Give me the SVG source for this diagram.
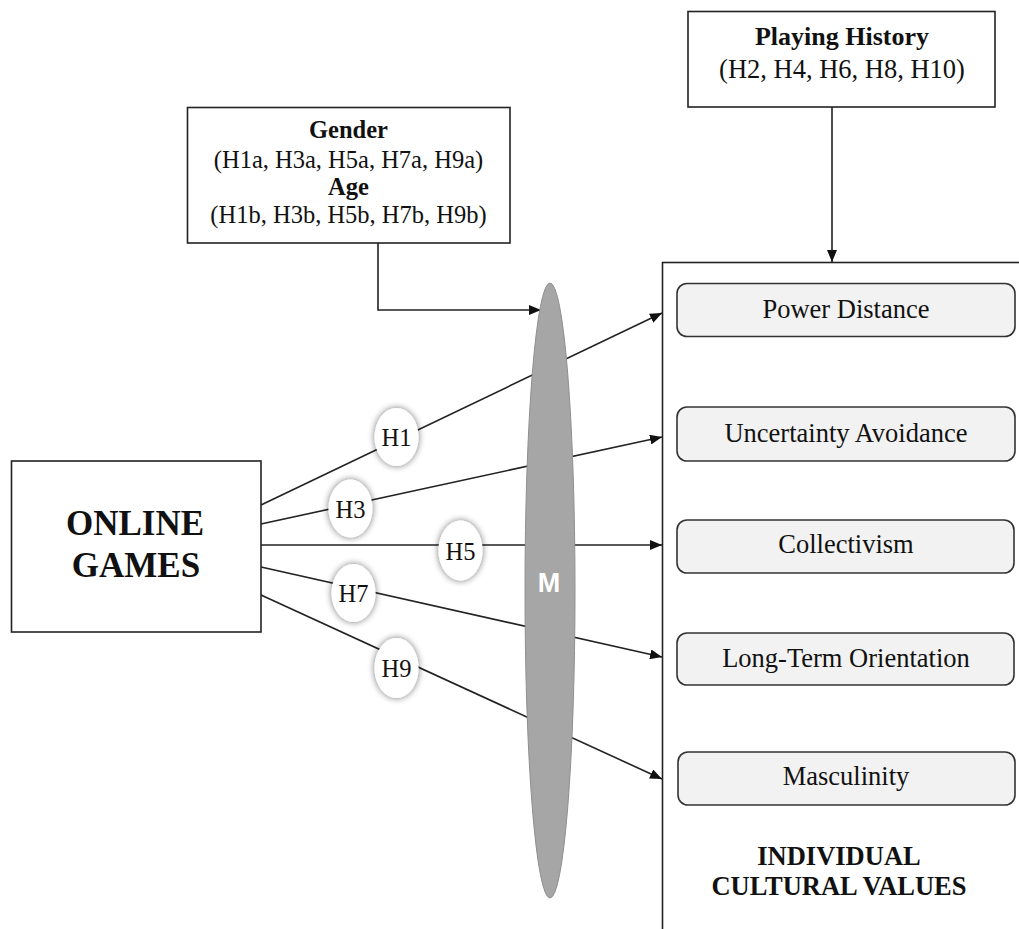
<svg xmlns="http://www.w3.org/2000/svg" width="1019" height="929" viewBox="0 0 1019 929">
  <style>
    .box { fill: #ffffff; stroke: #222222; stroke-width: 1.6; }
    .val { fill: #f2f2f2; stroke: #333333; stroke-width: 1.6; }
    .serif { font-family: "Liberation Serif", "Times New Roman", serif; fill: #111111; text-anchor: middle; }
    .b { font-weight: bold; }
    .link { fill: none; stroke: #222222; stroke-width: 1.6; }
    .hyp { fill: #ffffff; filter: url(#glow); }
  </style>
  <defs>
    <marker id="arrow" viewBox="0 0 12 10" refX="12" refY="5" markerWidth="12" markerHeight="10" markerUnits="userSpaceOnUse" orient="auto">
      <path d="M0,0 L12,5 L0,10 Z" fill="#111111"/>
    </marker>
    <filter id="glow" x="-50%" y="-50%" width="200%" height="200%">
      <feGaussianBlur in="SourceAlpha" stdDeviation="3.5"/>
      <feComponentTransfer><feFuncA type="linear" slope="0.55"/></feComponentTransfer>
      <feMerge><feMergeNode/><feMergeNode in="SourceGraphic"/></feMerge>
    </filter>
  </defs>

  <!-- connectors -->
  <g id="connectors">
    <line class="link" x1="261" y1="505" x2="662" y2="313" marker-end="url(#arrow)"/>
    <line class="link" x1="261" y1="524" x2="662" y2="437" marker-end="url(#arrow)"/>
    <line class="link" x1="261" y1="545" x2="662" y2="545" marker-end="url(#arrow)"/>
    <line class="link" x1="261" y1="567" x2="662" y2="657" marker-end="url(#arrow)"/>
    <line class="link" x1="261" y1="595" x2="662" y2="779" marker-end="url(#arrow)"/>
    <polyline class="link" points="378,243 378,310 541,310" marker-end="url(#arrow)"/>
    <line class="link" x1="832" y1="107" x2="832" y2="262" marker-end="url(#arrow)"/>
  </g>

  <!-- moderator -->
  <g id="moderator">
    <ellipse cx="550" cy="590.5" rx="25" ry="307.5" fill="#a6a6a6" stroke="#8f8f8f" stroke-width="1"/>
    <text x="549" y="592" font-family="Liberation Sans, Arial, sans-serif" font-weight="bold" font-size="27" fill="#ffffff" text-anchor="middle">M</text>
  </g>

  <!-- hypothesis labels -->
  <g id="h1"><ellipse class="hyp" cx="396.5" cy="437" rx="22" ry="29"/><text class="serif" x="396.5" y="446" font-size="24.5">H1</text></g>
  <g id="h3"><ellipse class="hyp" cx="350.5" cy="508.5" rx="22" ry="29"/><text class="serif" x="350.5" y="517.5" font-size="24.5">H3</text></g>
  <g id="h5"><ellipse class="hyp" cx="460.5" cy="550.5" rx="22" ry="30"/><text class="serif" x="460.5" y="560" font-size="24.5">H5</text></g>
  <g id="h7"><ellipse class="hyp" cx="353.5" cy="593" rx="22" ry="29"/><text class="serif" x="353.5" y="602" font-size="24.5">H7</text></g>
  <g id="h9"><ellipse class="hyp" cx="396.5" cy="668" rx="22" ry="30"/><text class="serif" x="396.5" y="677" font-size="24.5">H9</text></g>

  <!-- independent variable -->
  <g id="online-games">
    <rect class="box" x="11.5" y="461" width="249.5" height="171"/>
    <text class="serif b" x="135" y="535" font-size="35">ONLINE</text>
    <text class="serif b" x="136" y="577" font-size="35">GAMES</text>
  </g>

  <!-- demographic moderators -->
  <g id="gender-age">
    <rect class="box" x="187.5" y="107.5" width="322.5" height="135.5"/>
    <text class="serif b" x="348.5" y="138" font-size="24.5">Gender</text>
    <text class="serif" x="348.5" y="168" font-size="24.5">(H1a, H3a, H5a, H7a, H9a)</text>
    <text class="serif b" x="348.5" y="195" font-size="24.5">Age</text>
    <text class="serif" x="348.5" y="223" font-size="24.5">(H1b, H3b, H5b, H7b, H9b)</text>
  </g>

  <!-- playing history -->
  <g id="playing-history">
    <rect class="box" x="688" y="11.5" width="307" height="95.5"/>
    <text class="serif b" x="842" y="45" font-size="26">Playing History</text>
    <text class="serif" x="842" y="78" font-size="26.5">(H2, H4, H6, H8, H10)</text>
  </g>

  <!-- dependent variables -->
  <g id="cultural-values">
    <rect class="box" x="662.5" y="262.5" width="400" height="700"/>
    <text class="serif b" x="839" y="865" font-size="26.5">INDIVIDUAL</text>
    <text class="serif b" x="839" y="895" font-size="26.5">CULTURAL VALUES</text>
  </g>
  <g id="power-distance">
    <rect class="val" x="677" y="283.5" width="338" height="53" rx="10"/>
    <text class="serif" x="846" y="318" font-size="26.5">Power Distance</text>
  </g>
  <g id="uncertainty-avoidance">
    <rect class="val" x="677" y="407" width="338" height="54" rx="10"/>
    <text class="serif" x="846" y="442" font-size="26.5">Uncertainty Avoidance</text>
  </g>
  <g id="collectivism">
    <rect class="val" x="677" y="520" width="337" height="53" rx="10"/>
    <text class="serif" x="846" y="553" font-size="26.5">Collectivism</text>
  </g>
  <g id="long-term-orientation">
    <rect class="val" x="677" y="633" width="337" height="52" rx="10"/>
    <text class="serif" x="846" y="667" font-size="26.5">Long-Term Orientation</text>
  </g>
  <g id="masculinity">
    <rect class="val" x="678" y="752" width="337" height="53" rx="10"/>
    <text class="serif" x="846" y="785" font-size="26.5">Masculinity</text>
  </g>
</svg>
